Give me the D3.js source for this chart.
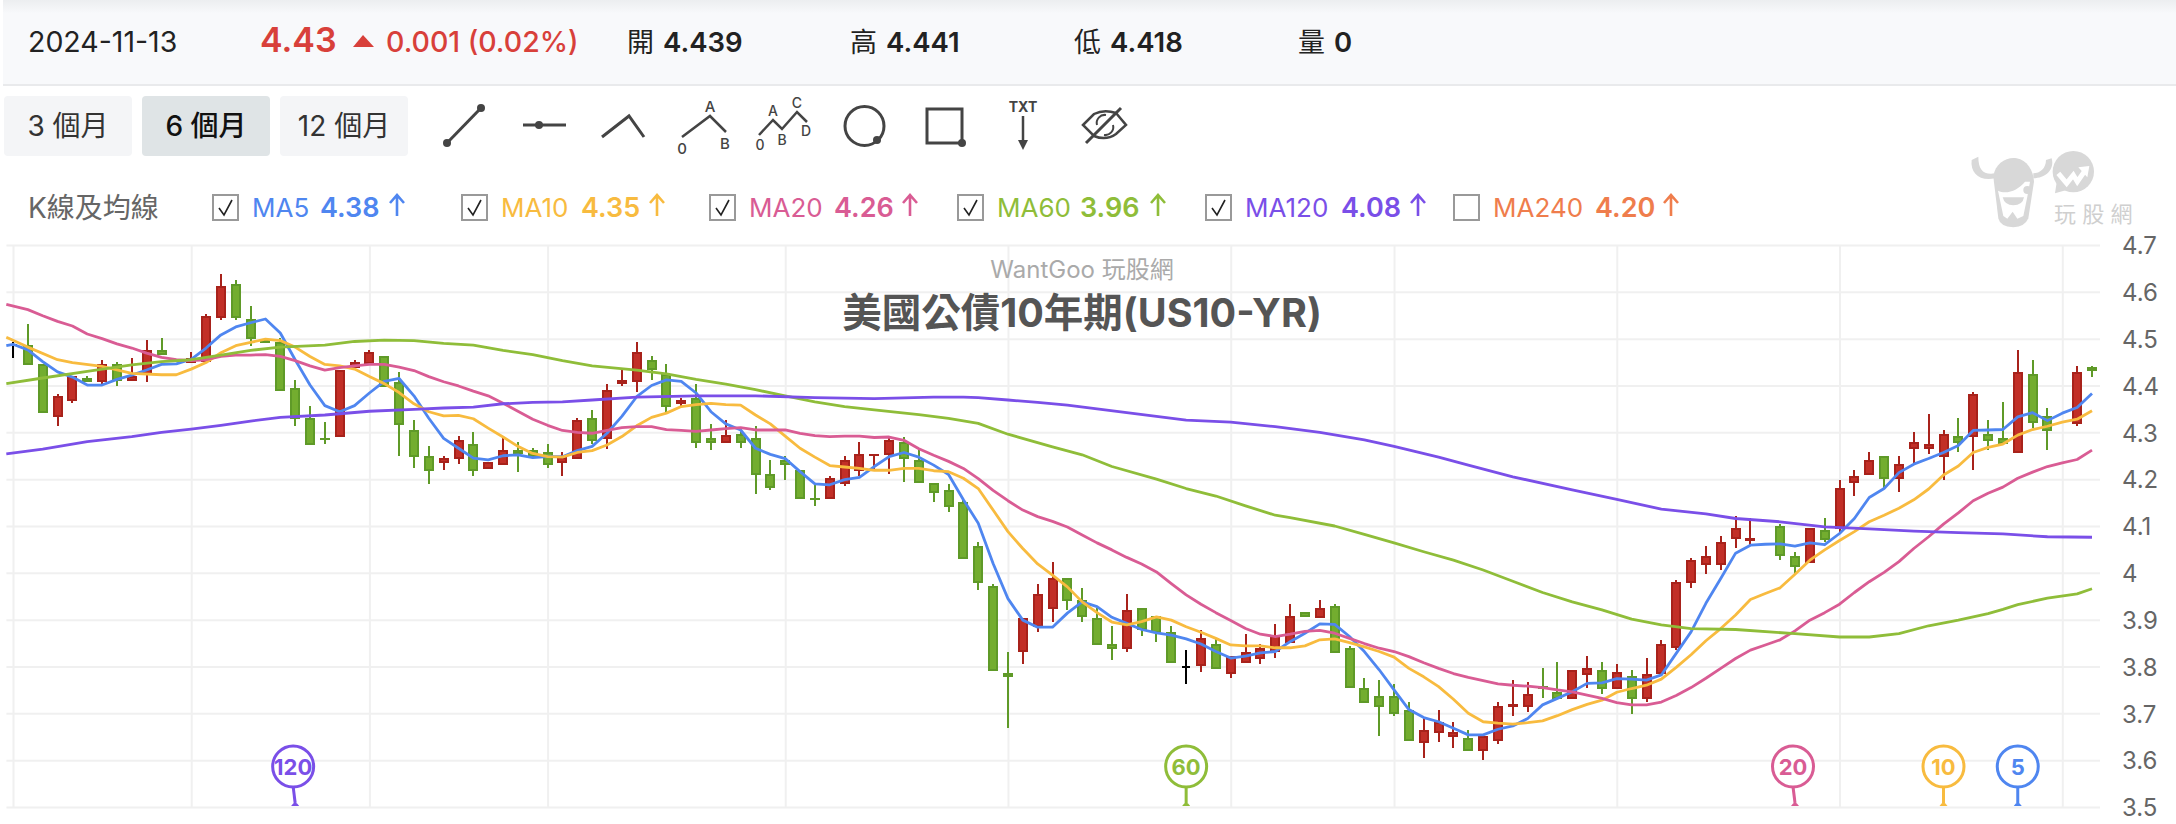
<!DOCTYPE html>
<html><head><meta charset="utf-8">
<style>html,body{margin:0;padding:0;background:#fff}svg{display:block}text{font-family:Inter,"Noto Sans CJK TC",sans-serif}</style>
<script src="https://cdn.jsdelivr.net/npm/d3@7/dist/d3.min.js"></script></head><body>
<svg id="c" width="2176" height="824"></svg>
<script>
// slot, open, high, low, close
const candles=[
[0,4.486,4.493,4.459,4.486],[1,4.487,4.531,4.443,4.443],[2,4.446,4.446,4.341,4.341],[3,4.332,4.382,4.314,4.378],[4,4.367,4.421,4.362,4.421],[5,4.416,4.421,4.408,4.408],[6,4.408,4.455,4.404,4.446],[7,4.446,4.45,4.399,4.409],[8,4.409,4.459,4.409,4.421],[9,4.422,4.497,4.408,4.476],[10,4.476,4.502,4.465,4.465],
[12,4.448,4.472,4.448,4.459],[13,4.45,4.553,4.45,4.549],[14,4.544,4.638,4.54,4.613],[15,4.617,4.626,4.54,4.544],[16,4.543,4.57,4.485,4.499],[17,4.5,4.502,4.49,4.49],[18,4.493,4.502,4.388,4.388],[19,4.395,4.412,4.314,4.328],[20,4.331,4.357,4.273,4.273],[21,4.288,4.322,4.275,4.284],[22,4.29,4.433,4.29,4.433],[23,4.438,4.455,4.438,4.45],[24,4.446,4.476,4.446,4.472],[25,4.463,4.463,4.396,4.396],[26,4.408,4.429,4.25,4.315],[27,4.305,4.327,4.224,4.247],[28,4.25,4.271,4.19,4.217],[29,4.234,4.25,4.22,4.245],[30,4.243,4.292,4.233,4.284],[31,4.275,4.301,4.207,4.217],[32,4.221,4.237,4.221,4.237],[33,4.23,4.288,4.23,4.263],[34,4.263,4.28,4.216,4.254],[35,4.263,4.267,4.247,4.247],[36,4.258,4.275,4.224,4.23],[37,4.234,4.258,4.207,4.248],[38,4.243,4.331,4.243,4.327],[39,4.33,4.348,4.275,4.281],[40,4.285,4.404,4.264,4.391],[41,4.404,4.435,4.399,4.412],[42,4.408,4.493,4.386,4.472],[43,4.455,4.463,4.412,4.433],[44,4.425,4.446,4.344,4.354],[45,4.361,4.374,4.355,4.369],[46,4.374,4.404,4.267,4.277],[47,4.288,4.318,4.263,4.277],[48,4.277,4.327,4.277,4.295],[49,4.297,4.31,4.267,4.277],[50,4.288,4.314,4.169,4.208],[51,4.211,4.241,4.177,4.181],[52,4.241,4.25,4.198,4.23],[53,4.22,4.22,4.157,4.157],[54,4.16,4.19,4.143,4.157],[55,4.157,4.207,4.157,4.203],[56,4.19,4.25,4.186,4.241],[57,4.217,4.28,4.206,4.254],[58,4.252,4.254,4.218,4.254],[59,4.251,4.292,4.211,4.284],[60,4.28,4.29,4.194,4.243],[61,4.241,4.263,4.191,4.191],[62,4.192,4.192,4.151,4.17],[63,4.177,4.19,4.13,4.14],[64,4.151,4.155,4.029,4.029],
[65,4.057,4.066,3.963,3.978],[66,3.972,3.976,3.79,3.79],[67,3.787,3.831,3.669,3.777],[68,3.832,3.903,3.805,3.903],[69,3.884,3.976,3.874,3.955],[70,3.922,4.023,3.895,3.989],[71,3.989,3.989,3.921,3.939],[72,3.942,3.968,3.895,3.905],[73,3.903,3.925,3.845,3.845],[74,3.848,3.886,3.814,3.837],[75,3.837,3.955,3.831,3.921],[76,3.925,3.925,3.865,3.879],[77,3.908,3.908,3.852,3.871],[78,3.874,3.886,3.807,3.807],[79,3.799,3.835,3.763,3.799],[80,3.802,3.878,3.788,3.861],[81,3.848,3.861,3.794,3.794],[82,3.785,3.822,3.775,3.822],[83,3.807,3.869,3.807,3.831],[84,3.815,3.848,3.805,3.839],[85,3.831,3.891,3.818,3.865],[86,3.851,3.933,3.851,3.908],[87,3.916,3.916,3.905,3.905],[88,3.903,3.942,3.903,3.925],[89,3.929,3.933,3.828,3.828],[90,3.839,3.844,3.755,3.755],[91,3.754,3.775,3.721,3.721],[92,3.737,3.771,3.652,3.713],[93,3.737,3.763,3.694,3.699],[94,3.707,3.724,3.64,3.64],[95,3.636,3.69,3.605,3.664],[96,3.657,3.707,3.639,3.681],[97,3.649,3.681,3.626,3.66],[98,3.647,3.664,3.619,3.619],[99,3.619,3.652,3.6,3.652],[100,3.64,3.724,3.634,3.716],[101,3.713,3.771,3.694,3.72],[102,3.713,3.767,3.703,3.741],[103,3.758,3.797,3.733,3.754],[104,3.745,3.81,3.73,3.73],[105,3.73,3.792,3.73,3.792],[106,3.781,3.822,3.754,3.797],[107,3.792,3.81,3.741,3.751],[108,3.751,3.805,3.751,3.788],[109,3.78,3.792,3.699,3.73],[110,3.73,3.818,3.724,3.784],[111,3.785,3.857,3.785,3.848],[112,3.839,3.985,3.835,3.98],[113,3.978,4.032,3.968,4.027],[114,4.016,4.057,3.997,4.036],[115,4.016,4.079,4.006,4.066],[116,4.072,4.121,4.053,4.096],[117,4.067,4.117,4.057,4.074],
[119,4.1,4.104,4.027,4.037],[120,4.036,4.044,3.997,4.012],[121,4.02,4.096,4.02,4.096],[122,4.091,4.117,4.066,4.07],[123,4.093,4.198,4.083,4.181],[124,4.191,4.22,4.164,4.207],[125,4.208,4.258,4.208,4.241],[126,4.25,4.25,4.181,4.2],[127,4.2,4.25,4.173,4.232],[128,4.264,4.301,4.232,4.279],[129,4.264,4.339,4.254,4.275],[130,4.247,4.305,4.198,4.296],[131,4.292,4.331,4.258,4.277],[132,4.289,4.386,4.22,4.382],[133,4.296,4.326,4.262,4.281],[134,4.288,4.365,4.275,4.275],[135,4.255,4.476,4.255,4.429],[136,4.425,4.454,4.309,4.319],[137,4.335,4.352,4.262,4.302],
[139,4.318,4.442,4.313,4.429],[140,4.439,4.441,4.418,4.43]];
const ma5=[[-0.45,4.485],[0,4.488],[1,4.476],[2,4.451],[3,4.429],[4,4.418],[5,4.401],[6,4.401],[7,4.413],[8,4.422],[9,4.433],[10,4.445],[11,4.446],[12,4.456],[13,4.48],[14,4.508],[15,4.525],[16,4.534],[17,4.542],[18,4.512],[19,4.455],[20,4.401],[21,4.357],[22,4.344],[23,4.357],[24,4.384],[25,4.409],[26,4.415],[27,4.378],[28,4.33],[29,4.287],[30,4.266],[31,4.245],[32,4.241],[33,4.25],[34,4.252],[35,4.246],[36,4.248],[37,4.248],[38,4.261],[39,4.27],[40,4.298],[41,4.334],[42,4.376],[43,4.4],[44,4.412],[45,4.409],[46,4.384],[47,4.344],[48,4.318],[49,4.305],[50,4.266],[51,4.253],[52,4.244],[53,4.216],[54,4.19],[55,4.188],[56,4.199],[57,4.204],[58,4.227],[59,4.248],[60,4.257],[61,4.247],[62,4.23],[63,4.21],[64,4.156],[65,4.106],[66,4.02],[67,3.945],[68,3.899],[69,3.884],[70,3.884],[71,3.914],[72,3.938],[73,3.928],[74,3.905],[75,3.892],[76,3.879],[77,3.872],[78,3.867],[79,3.859],[80,3.848],[81,3.832],[82,3.818],[83,3.822],[84,3.829],[85,3.832],[86,3.853],[87,3.871],[88,3.891],[89,3.89],[90,3.864],[91,3.832],[92,3.793],[93,3.75],[94,3.708],[95,3.691],[96,3.682],[97,3.668],[98,3.654],[99,3.654],[100,3.666],[101,3.673],[102,3.689],[103,3.718],[104,3.732],[105,3.746],[106,3.764],[107,3.765],[108,3.774],[109,3.773],[110,3.771],[111,3.782],[112,3.828],[113,3.874],[114,3.935],[115,3.988],[116,4.042],[117,4.059],[118,4.061],[119,4.062],[120,4.057],[121,4.064],[122,4.06],[123,4.084],[124,4.116],[125,4.161],[126,4.18],[127,4.214],[128,4.232],[129,4.244],[130,4.257],[131,4.272],[132,4.304],[133,4.305],[134,4.306],[135,4.333],[136,4.342],[137,4.325],[138,4.341],[139,4.353],[140,4.383]];
const ma10=[[-0.45,4.503],[1,4.482],[3,4.455],[4,4.449],[6,4.441],[8,4.426],[10,4.423],[11,4.423],[12,4.435],[13,4.449],[14,4.47],[15,4.485],[16,4.492],[17,4.499],[18,4.496],[19,4.482],[20,4.462],[21,4.445],[22,4.442],[23,4.435],[24,4.419],[25,4.404],[26,4.385],[27,4.361],[28,4.344],[29,4.335],[30,4.336],[31,4.329],[32,4.309],[33,4.29],[34,4.27],[35,4.255],[36,4.248],[37,4.247],[38,4.257],[39,4.261],[40,4.273],[41,4.291],[42,4.314],[43,4.332],[44,4.341],[45,4.355],[46,4.359],[47,4.362],[48,4.359],[49,4.358],[50,4.337],[51,4.318],[52,4.292],[53,4.266],[54,4.247],[55,4.229],[56,4.226],[57,4.223],[58,4.219],[59,4.219],[60,4.223],[61,4.223],[62,4.218],[63,4.216],[64,4.202],[65,4.18],[66,4.134],[67,4.088],[68,4.052],[69,4.019],[70,3.995],[71,3.97],[72,3.938],[73,3.915],[74,3.895],[75,3.889],[76,3.896],[77,3.906],[78,3.899],[79,3.885],[80,3.873],[81,3.86],[82,3.846],[83,3.844],[84,3.844],[85,3.84],[86,3.84],[87,3.844],[88,3.857],[89,3.859],[90,3.851],[91,3.842],[92,3.832],[93,3.82],[94,3.796],[95,3.778],[96,3.757],[97,3.73],[98,3.7],[99,3.682],[100,3.679],[101,3.677],[102,3.68],[103,3.684],[104,3.695],[105,3.708],[106,3.719],[107,3.728],[108,3.745],[109,3.753],[110,3.76],[111,3.773],[112,3.798],[113,3.825],[114,3.855],[115,3.881],[116,3.91],[117,3.943],[118,3.956],[119,3.968],[120,3.997],[121,4.027],[122,4.049],[123,4.069],[124,4.088],[125,4.109],[126,4.123],[127,4.138],[128,4.156],[129,4.179],[130,4.209],[131,4.228],[132,4.257],[133,4.268],[134,4.275],[135,4.294],[136,4.306],[137,4.313],[138,4.322],[139,4.328],[140,4.346]];
const ma20=[[-0.45,4.573],[1,4.562],[2,4.549],[3,4.537],[4,4.527],[5,4.51],[6,4.5],[7,4.489],[8,4.48],[9,4.469],[10,4.46],[11,4.455],[12,4.453],[13,4.455],[14,4.462],[15,4.465],[16,4.465],[17,4.466],[18,4.462],[19,4.453],[20,4.442],[21,4.433],[22,4.438],[23,4.442],[24,4.445],[25,4.445],[26,4.439],[27,4.432],[28,4.419],[29,4.408],[30,4.399],[31,4.388],[32,4.378],[33,4.362],[34,4.345],[35,4.328],[36,4.315],[37,4.304],[38,4.3],[39,4.298],[40,4.304],[41,4.31],[42,4.312],[43,4.312],[44,4.306],[45,4.304],[46,4.302],[47,4.305],[48,4.308],[49,4.31],[50,4.305],[51,4.305],[52,4.305],[53,4.298],[54,4.293],[55,4.291],[56,4.292],[57,4.292],[58,4.289],[59,4.29],[60,4.283],[61,4.265],[62,4.251],[63,4.238],[64,4.223],[65,4.201],[66,4.176],[67,4.154],[68,4.134],[69,4.12],[70,4.11],[71,4.098],[72,4.081],[73,4.064],[74,4.049],[75,4.033],[76,4.019],[77,4.002],[78,3.977],[79,3.953],[80,3.933],[81,3.915],[82,3.898],[83,3.881],[84,3.869],[85,3.864],[86,3.869],[87,3.875],[88,3.877],[89,3.871],[90,3.86],[91,3.849],[92,3.839],[93,3.832],[94,3.821],[95,3.808],[96,3.796],[97,3.785],[98,3.777],[99,3.77],[100,3.763],[101,3.76],[102,3.758],[103,3.755],[104,3.75],[105,3.746],[106,3.739],[107,3.732],[108,3.723],[109,3.718],[110,3.718],[111,3.724],[112,3.738],[113,3.755],[114,3.775],[115,3.796],[116,3.817],[117,3.835],[118,3.846],[119,3.857],[120,3.876],[121,3.899],[122,3.915],[123,3.933],[124,3.958],[125,3.981],[126,4.001],[127,4.024],[128,4.052],[129,4.077],[130,4.104],[131,4.128],[132,4.154],[133,4.17],[134,4.183],[135,4.202],[136,4.215],[137,4.227],[138,4.235],[139,4.242],[140,4.262]];
const ma60=[[-0.45,4.404],[2,4.416],[5,4.43],[8,4.444],[10,4.451],[12,4.455],[14,4.465],[16,4.475],[18,4.482],[21,4.486],[23,4.494],[25,4.497],[27,4.496],[29,4.49],[31,4.486],[33,4.475],[35,4.466],[37,4.453],[39,4.442],[42,4.433],[44,4.425],[46,4.413],[48,4.403],[50,4.391],[52,4.378],[54,4.365],[56,4.355],[58,4.348],[61,4.338],[63,4.33],[65,4.319],[67,4.296],[70,4.269],[72,4.252],[74,4.227],[77,4.2],[79,4.18],[81,4.164],[83,4.143],[85,4.123],[86,4.118],[89,4.1],[91,4.082],[93,4.064],[95,4.045],[97,4.027],[99,4.006],[101,3.982],[103,3.958],[105,3.938],[107,3.921],[109,3.901],[111,3.889],[113,3.881],[116,3.879],[120,3.87],[123,3.863],[125,3.863],[127,3.87],[129,3.887],[131,3.899],[133,3.913],[134,3.922],[135,3.932],[137,3.946],[139,3.955],[140,3.966]];
const ma120=[[-0.45,4.254],[2,4.264],[5,4.28],[8,4.291],[10,4.3],[12,4.307],[14,4.315],[16,4.324],[18,4.332],[21,4.337],[24,4.345],[27,4.349],[29,4.352],[31,4.354],[33,4.361],[35,4.364],[37,4.365],[39,4.369],[42,4.375],[46,4.378],[50,4.378],[54,4.374],[58,4.372],[62,4.375],[64,4.375],[65,4.374],[67,4.369],[69,4.364],[71,4.358],[73,4.35],[79,4.326],[82,4.322],[85,4.312],[88,4.3],[91,4.284],[93,4.27],[96,4.247],[98,4.23],[101,4.205],[105,4.177],[108,4.157],[111,4.136],[114,4.126],[116,4.116],[119,4.109],[122,4.098],[125,4.094],[128,4.089],[131,4.086],[134,4.083],[137,4.077],[140,4.076]];
const yTicks=[4.7,4.6,4.5,4.4,4.3,4.2,4.1,4,3.9,3.8,3.7,3.6,3.5];
const gridSlots=[0,12,24,36,52,67,82,93,108,123,138];
const maSeries=[["MA5",ma5,"#4f86f0"],["MA10",ma10,"#f8bb3f"],["MA20",ma20,"#d95c94"],["MA60",ma60,"#8fbd39"],["MA120",ma120,"#7a4fe8"]];
const pins=[["120",19,"#7a4fe8"],["60",79,"#8fbd39"],["20",120,"#d95c94"],["10",130,"#f8bb3f"],["5",135,"#4f86f0"]];
const legend=[
 {box:212,name:"MA5",nx:252,val:"4.38",vx:320,ax:397,c:"#4f86f0",on:true},
 {box:461,name:"MA10",nx:501,val:"4.35",vx:581,ax:657,c:"#f8bb3f",on:true},
 {box:709,name:"MA20",nx:749,val:"4.26",vx:834,ax:910,c:"#d95c94",on:true},
 {box:957,name:"MA60",nx:997,val:"3.96",vx:1080,ax:1158,c:"#8fbd39",on:true},
 {box:1205,name:"MA120",nx:1245,val:"4.08",vx:1341,ax:1418,c:"#7a4fe8",on:true},
 {box:1453,name:"MA240",nx:1493,val:"4.20",vx:1595,ax:1671,c:"#ef7d4c",on:false}];
const ranges=[["3 個月",4,false],["6 個月",142,true],["12 個月",280,false]];
const quotes=[["開","4.439",627],["高","4.441",850],["低","4.418",1074],["量","0",1298]];

const svg=d3.select("#c");
const T=(x,y,s,size,fill,weight,anchor,g)=>(g||svg).append("text").attr("x",x).attr("y",y).attr("font-size",size).attr("fill",fill).attr("font-weight",weight||400).attr("text-anchor",anchor||"start").text(s);

// header
const defs=svg.append("defs");
const gr=defs.append("linearGradient").attr("id","hd").attr("x1",0).attr("x2",0).attr("y1",0).attr("y2",1);
gr.append("stop").attr("offset",0).attr("stop-color","#eceef0");
gr.append("stop").attr("offset",.16).attr("stop-color","#f8f9fb");
svg.append("rect").attr("x",3).attr("y",0).attr("width",2173).attr("height",84).attr("fill","url(#hd)");
svg.append("rect").attr("x",3).attr("y",84).attr("width",2173).attr("height",2).attr("fill","#e9eaec");
T(28,52,"2024-11-13",28.5,"#222");
T(260,52,"4.43",34,"#d8403a",600);
svg.append("path").attr("d","M353 47L363 35L374 47Z").attr("fill","#d8403a");
T(386,52,"0.001 (0.02%)",28.5,"#d8403a",500);
quotes.forEach(q=>{T(q[2],52,q[0],27,"#222");T(q[2]+36,52,q[1],27.5,"#222",600);});

// range buttons
ranges.forEach(r=>{
 svg.append("rect").attr("x",r[1]).attr("y",96).attr("width",128).attr("height",60).attr("rx",4).attr("fill",r[2]?"#dfe4e6":"#f4f5f7");
 T(r[1]+64,136,r[0],28,r[2]?"#111":"#333",r[2]?500:400,"middle");
});

// drawing tools
const ink="#444";
const P=(d,w)=>svg.append("path").attr("d",d).attr("fill","none").attr("stroke",ink).attr("stroke-width",w||3);
const D=(x,y,r)=>svg.append("circle").attr("cx",x).attr("cy",y).attr("r",r||4).attr("fill",ink);
P("M447 143L481 108");D(447,143);D(481,108);
P("M523 125H566");D(539,125);
P("M602 137L629 116L644 137");
P("M682 137L710 116L726 132",2.5);
T(710,112,"A",15,ink,500,"middle");T(725,149,"B",15,ink,500,"middle");T(682,154,"0",15,ink,500,"middle");
P("M759 135L773 120L782 129L797 112L807 122",2.5);
T(773,116,"A",14,ink,500,"middle");T(797,108,"C",14,ink,500,"middle");T(782,145,"B",14,ink,500,"middle");T(806,136,"D",14,ink,500,"middle");T(760,150,"0",14,ink,500,"middle");
svg.append("circle").attr("cx",864.5).attr("cy",126).attr("r",19.5).attr("fill","none").attr("stroke",ink).attr("stroke-width",3);D(877,140);
svg.append("rect").attr("x",927).attr("y",109).attr("width",35).attr("height",34).attr("fill","none").attr("stroke",ink).attr("stroke-width",3);D(962,143);
T(1023,112,"TXT",14,ink,700,"middle");
P("M1023 116V144",2.5);svg.append("path").attr("d","M1018 140H1028L1023 150Z").attr("fill",ink);
P("M1083 125L1094 114Q1104 109 1116 113L1126 125L1116 134Q1106 141 1094 136Z",2.5);
P("M1097 125A8 8 0 0 1 1106 115M1113 125A8 8 0 0 1 1104 135",2);
P("M1086 143L1121 108",3);

// legend
T(28,218,"K線及均線",28,"#666");
legend.forEach(l=>{
 svg.append("rect").attr("x",l.box+1).attr("y",195).attr("width",25).attr("height",25).attr("fill","#fff").attr("stroke","#999").attr("stroke-width",2);
 if(l.on) svg.append("path").attr("d",`M${l.box+7} 208L${l.box+12} 215L${l.box+20} 200`).attr("fill","none").attr("stroke","#222").attr("stroke-width",1.6);
 T(l.nx,217,l.name,26,l.c);
 T(l.vx,217,l.val,27,l.c,600);
 svg.append("path").attr("d",`M${l.ax} 216V196M${l.ax-7} 203L${l.ax} 195L${l.ax+7} 203`).attr("fill","none").attr("stroke",l.c).attr("stroke-width",2.6);
});

// logo watermark
const logo=svg.append("g").attr("fill","#d8d8d8").attr("transform","translate(1970,140) scale(0.3333)");
logo.append("path").attr("d","M5,60C0,100 30,125 75,115L75,100C40,105 25,90 25,50Z");
logo.append("path").attr("d","M245,55C255,90 225,115 190,115L190,100C210,100 228,85 228,60Z");
logo.append("path").attr("d","M70,110C75,70 110,50 140,55C170,60 190,90 192,125L175,235Q165,260 130,262Q90,260 85,235Z");
logo.append("path").attr("fill","#fff").attr("d","M84,152C110,165 145,150 165,125L180,125L172,170L160,228L142,236L128,215L112,236L100,228Z");
logo.append("circle").attr("cx",172).attr("cy",150).attr("r",12);
logo.append("path").attr("d","M98,172H162Q158,196 130,196Q104,196 98,172Z");
logo.append("circle").attr("cx",310).attr("cy",95).attr("r",62);
logo.append("path").attr("d","M255,160L262,115L290,150Z");
logo.append("path").attr("d","M265,100L290,130L310,105L322,125L345,92").attr("fill","none").attr("stroke","#fff").attr("stroke-width",15);
logo.append("path").attr("d","M325,82L358,78L352,112Z").attr("fill","#fff");
T(2054,222,"玩 股 網",22,"#cfcfcf");

// chart scales
const x=d3.scaleLinear().domain([0,140]).range([13,2092]);
const y=d3.scaleLinear().domain([3.5,4.7]).range([807,245]);
const left=6.4,right=2100;

const yAxis=svg.append("g").attr("transform",`translate(${right},1)`).call(d3.axisRight(y).tickValues(yTicks).tickSize(0).tickPadding(22).tickFormat(d=>String(d)));
yAxis.select(".domain").remove();
yAxis.selectAll("text").attr("font-size",24).attr("fill","#666").style("font-family","Inter,sans-serif");
yAxis.selectAll(".tick").append("line").attr("x1",left-right).attr("x2",0).attr("y1",-1).attr("y2",-1).attr("stroke","#f0f0f0").attr("stroke-width",2);

const xAxis=svg.append("g").attr("transform","translate(0,245)").call(d3.axisBottom(x).tickValues(gridSlots).tickSize(807-245).tickFormat(""));
xAxis.select(".domain").remove();
xAxis.selectAll("line").attr("stroke","#f0f0f0").attr("stroke-width",2);

T(1082,278,"WantGoo 玩股網",24,"#aaa",400,"middle");
T(1082,327,"美國公債10年期(US10-YR)",39.5,"#555",700,"middle");

// candles
const upC=["#c22f27","#a8221b"],dnC=["#73ad2f","#5f9a28"];
const g=svg.append("g").attr("shape-rendering","crispEdges");
candles.forEach(([s,o,h,l,c])=>{
 const cx=Math.round(x(s));
 const doji=o===c;
 const pal=doji?["#000","#000"]:(c>o?upC:dnC);
 g.append("line").attr("x1",cx).attr("x2",cx).attr("y1",y(h)).attr("y2",y(l)).attr("stroke",pal[1]).attr("stroke-width",2);
 const top=y(Math.max(o,c)),bot=y(Math.min(o,c));
 if(doji){g.append("line").attr("x1",cx-4).attr("x2",cx+4).attr("y1",top).attr("y2",top).attr("stroke","#000").attr("stroke-width",2);return;}
 g.append("rect").attr("x",cx-4).attr("y",top+1).attr("width",8).attr("height",Math.max(bot-top-2,0.5)).attr("fill",pal[0]).attr("stroke",pal[1]).attr("stroke-width",2);
});

// moving averages
const line=d3.line().x(d=>x(d[0])).y(d=>y(d[1]));
maSeries.forEach(m=>{
 svg.append("path").datum(m[1]).attr("d",line).attr("fill","none").attr("stroke",m[2]).attr("stroke-width",2.8).attr("stroke-linejoin","round");
});

// pins
pins.forEach(p=>{
 const px=x(p[1]),cx=px-(p[0]==="120"||p[0]==="20"?2:0),cy=766.5;
 svg.append("path").attr("d",`M${cx} ${cy+20}L${px} ${y(3.5)-4}`).attr("stroke",p[2]).attr("stroke-width",3).attr("fill","none");
 svg.append("path").attr("d",`M${px-4} ${y(3.5)-1}Q${px} ${y(3.5)-8} ${px+4} ${y(3.5)-1}Z`).attr("fill",p[2]);
 svg.append("circle").attr("cx",cx).attr("cy",cy).attr("r",20.5).attr("fill","#fff").attr("stroke",p[2]).attr("stroke-width",3);
 T(cx,cy+8,p[0],22,p[2],700,"middle");
});
</script></body></html>
